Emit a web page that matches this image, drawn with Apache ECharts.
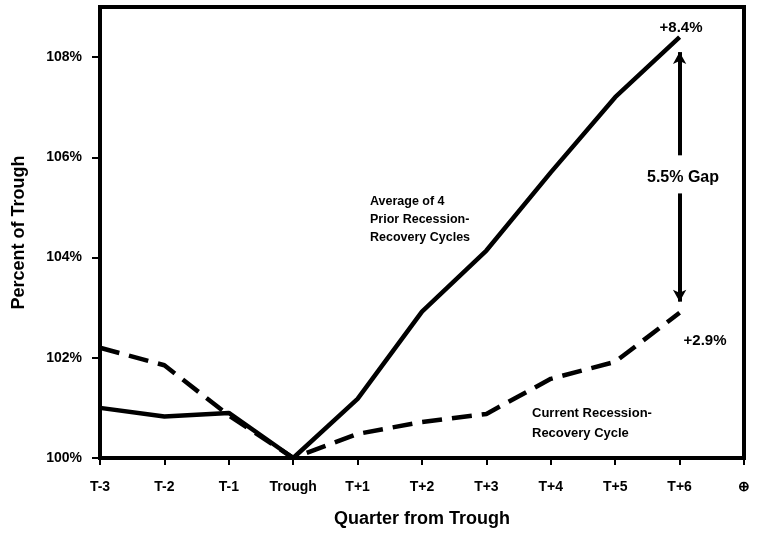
<!DOCTYPE html>
<html>
<head>
<meta charset="utf-8">
<script src="https://cdn.jsdelivr.net/npm/echarts@6/dist/echarts.min.js"></script>
<style>
html,body{margin:0;padding:0;background:#fff;}
#chart{width:757px;height:533px;}
</style>
</head>
<body>
<div id="chart"></div>
<script>
var quarters = ['T-3', 'T-2', 'T-1', 'Trough', 'T+1', 'T+2', 'T+3', 'T+4', 'T+5', 'T+6', '\u2295'];
var priorAverage = [101.0, 100.83, 100.9, 100, 101.18, 102.92, 104.14, 105.7, 107.2, 108.4, null];
var currentCycle = [102.2, 101.85, 100.85, 100, 100.48, 100.72, 100.88, 101.58, 101.92, 102.9, null];
var gapTop = [106.04, 108.1];
var gapBottom = [105.28, 103.12];

var font = '"Liberation Sans", Arial, sans-serif';
var chart = echarts.init(document.getElementById('chart'));

// annotation text, x/y is the anchor point
function txt(x, y, s, size, align, lh) {
    return {
        type: 'text', x: x, y: y,
        style: {text: s, font: 'bold ' + size + 'px ' + font, fill: '#000',
            textAlign: align || 'left', textVerticalAlign: 'middle', lineHeight: lh || size + 4}
    };
}

chart.setOption({
    animation: false,
    grid: {left: 100, right: 13, top: 7, bottom: 74, show: true, borderColor: '#000', borderWidth: 4},
    xAxis: {
        type: 'category',
        data: quarters,
        boundaryGap: false,
        name: 'Quarter from Trough',
        nameLocation: 'middle',
        nameGap: 52,
        nameTextStyle: {fontFamily: font, fontWeight: 'bold', fontSize: 18, color: '#000'},
        axisLine: {lineStyle: {color: '#000', width: 4}},
        axisTick: {alignWithLabel: true, length: 7, lineStyle: {color: '#000', width: 2}},
        axisLabel: {interval: 0, margin: 22, fontFamily: font, fontWeight: 'bold', fontSize: 14, color: '#000'},
        splitLine: {show: false}
    },
    yAxis: {
        type: 'value',
        min: 100, max: 109, interval: 2,
        name: 'Percent of Trough',
        nameLocation: 'middle',
        nameGap: 72,
        nameTextStyle: {fontFamily: font, fontWeight: 'bold', fontSize: 18, color: '#000'},
        axisLine: {show: true, lineStyle: {color: '#000', width: 4}},
        axisTick: {show: true, length: 8, lineStyle: {color: '#000', width: 2}},
        axisLabel: {margin: 18, showMaxLabel: false, fontFamily: font, fontWeight: 'bold', fontSize: 14, color: '#000',
            formatter: function (v) { return v + '%'; }},
        splitLine: {show: false}
    },
    series: [{
        name: 'Average of 4 Prior Recession-Recovery Cycles',
        type: 'line',
        data: priorAverage,
        symbol: 'none',
        lineStyle: {color: '#000', width: 4.5},
        markLine: {
            silent: true,
            symbol: ['none', 'arrow'],
            symbolSize: [10, 12],
            label: {show: false},
            lineStyle: {color: '#000', width: 4, type: 'solid'},
            data: [
                [{coord: ['T+6', gapTop[0]]}, {coord: ['T+6', gapTop[1]]}],
                [{coord: ['T+6', gapBottom[0]]}, {coord: ['T+6', gapBottom[1]]}]
            ]
        }
    }, {
        name: 'Current Recession-Recovery Cycle',
        type: 'line',
        data: currentCycle,
        symbol: 'none',
        lineStyle: {color: '#000', width: 4.5, type: [20, 10]}
    }],
    graphic: [
        txt(681, 28, '+8.4%', 15, 'center'),
        txt(705, 341, '+2.9%', 15, 'center'),
        txt(683, 178, '5.5% Gap', 16, 'center'),
        txt(370, 220, 'Average of 4\nPrior Recession-\nRecovery Cycles', 12.5, 'left', 18),
        txt(532, 423, 'Current Recession-\nRecovery Cycle', 13, 'left', 20)
    ]
});
</script>
</body>
</html>
